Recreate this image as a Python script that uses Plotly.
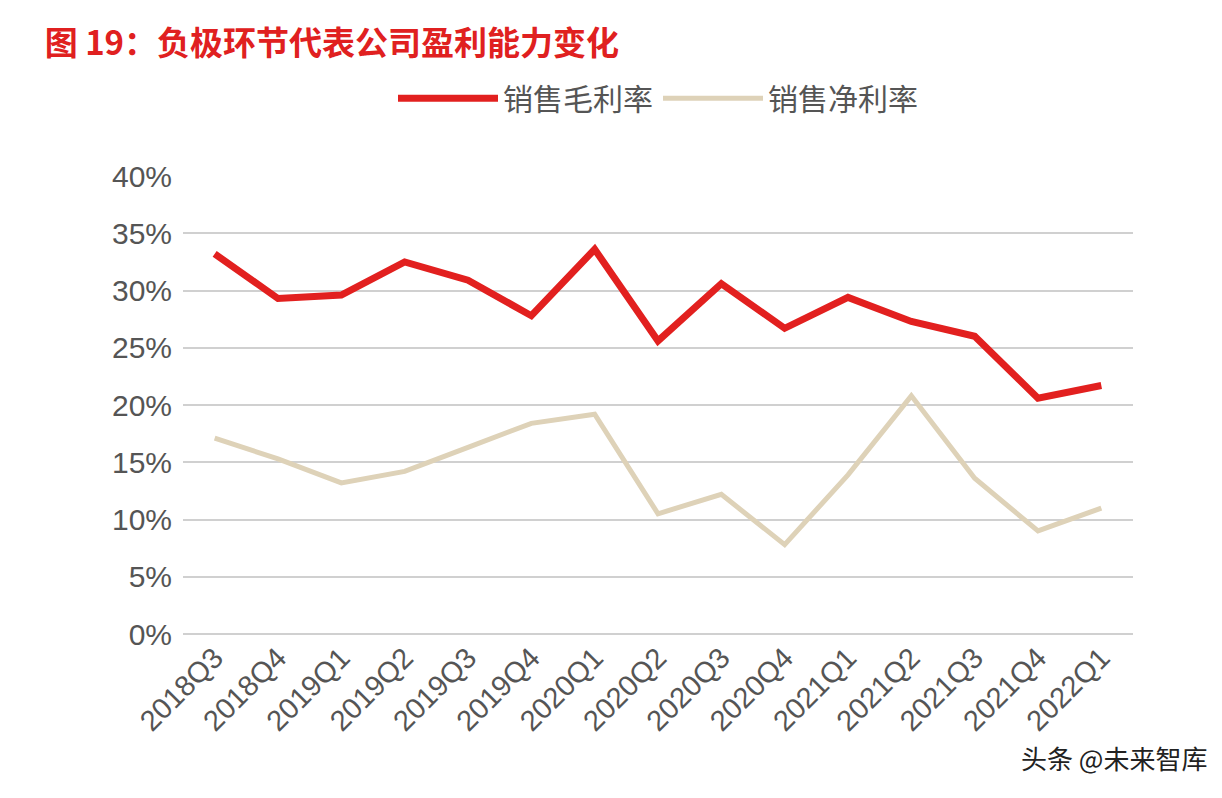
import plotly.graph_objects as go

quarters = ["2018Q3", "2018Q4", "2019Q1", "2019Q2", "2019Q3", "2019Q4", "2020Q1", "2020Q2",
            "2020Q3", "2020Q4", "2021Q1", "2021Q2", "2021Q3", "2021Q4", "2022Q1"]
gross_margin = [33.2, 29.3, 29.6, 32.5, 30.9, 27.8, 33.6, 25.6, 30.6, 26.7, 29.4, 27.3, 26.0, 20.6, 21.7]
net_margin = [17.1, 15.3, 13.2, 14.2, 16.3, 18.4, 19.2, 10.5, 12.2, 7.8, 13.9, 20.8, 13.6, 9.0, 11.0]
y_ticks = [0, 5, 10, 15, 20, 25, 30, 35, 40]

fig = go.Figure()
fig.add_trace(go.Scatter(x=quarters, y=gross_margin, mode="lines", name="销售毛利率",
                         line=dict(color="#E2201F", width=7)))
fig.add_trace(go.Scatter(x=quarters, y=net_margin, mode="lines", name="销售净利率",
                         line=dict(color="#DED2B8", width=5)))

font = "Noto Sans CJK SC"
tick_font = "Liberation Sans"
fig.update_layout(
    width=1222, height=798, plot_bgcolor="white", paper_bgcolor="white",
    margin=dict(l=175, r=97, t=168, b=172),
    font=dict(family=font, color="#555555"),
    title=dict(text="<b>图 19：负极环节代表公司盈利能力变化</b>", x=0.03, y=0.955,
               xanchor="left", yanchor="middle",
               font=dict(size=33, color="#E02020", family=font)),
    legend=dict(orientation="h", x=0.5, y=1.17, xanchor="center", yanchor="middle",
                font=dict(size=30, color="#555555"), itemwidth=100),
    showlegend=True,
)
fig.update_xaxes(tickangle=-45, tickfont=dict(size=29, color="#555555", family=tick_font),
                 showgrid=False, showline=False, ticks="", range=[-0.5, 14.5])
fig.update_yaxes(range=[0, 40], tickvals=y_ticks, ticktext=[f"{v}%" for v in y_ticks],
                 tickfont=dict(size=30, color="#555555", family=tick_font),
                 gridcolor="#D0D0D0", gridwidth=1.5,
                 zeroline=True, zerolinecolor="#D0D0D0", zerolinewidth=1.5,
                 ticks="", ticklabelstandoff=10)
fig.add_annotation(text="头条 @未来智库", xref="paper", yref="paper", x=1.08, y=-0.27,
                   xanchor="right", yanchor="middle", showarrow=False,
                   font=dict(size=26, color="#222222", family=font))

fig.write_html("out.html")
